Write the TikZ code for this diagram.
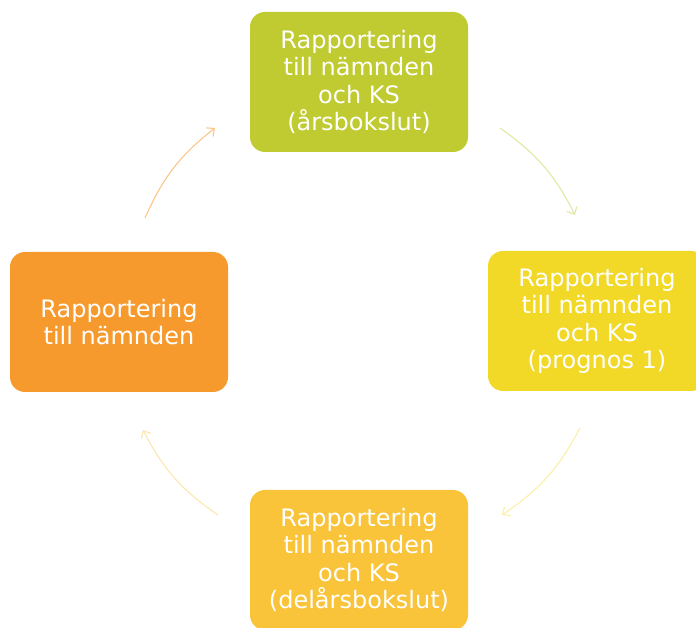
\documentclass[tikz,border=0pt]{standalone}
\usepackage{fontspec}
\setmainfont{DejaVu Sans}
\usetikzlibrary{arrows.meta}
\definecolor{arsgreen}{RGB}{191,203,48}
\definecolor{progyellow}{RGB}{242,217,40}
\definecolor{delgold}{RGB}{249,196,58}
\definecolor{namorange}{RGB}{247,154,46}
\begin{document}
\begin{tikzpicture}[x=1pt,y=1pt,
	stage/.style={rounded corners=15pt,minimum width=218pt,minimum height=140pt,align=center,text=white,font=\fontsize{24}{27.3}\selectfont},
	cycle/.style={line width=1.1pt,-{Straight Barb[length=6pt,width=11pt]},bend left=14}]
			\useasboundingbox (0,0) rectangle (696,628);
			\node [stage,fill=arsgreen] (ars) at (359,546) {Rapportering\\till nämnden\\och KS\\(årsbokslut)};
			\node [stage,fill=progyellow] (prog) at (597,307) {Rapportering\\till nämnden\\och KS\\(prognos 1)};
			\node [stage,fill=delgold] (del) at (359,68) {Rapportering\\till nämnden\\och KS\\(delårsbokslut)};
			\node [stage,fill=namorange] (nam) at (119,306) {Rapportering\\till nämnden};
			\coordinate (a1) at (500,500);
			\coordinate (a2) at (575,413);
			\coordinate (b1) at (580,200);
			\coordinate (b2) at (502,113);
			\coordinate (c1) at (218,113);
			\coordinate (c2) at (143,198);
			\coordinate (d1) at (145,410);
			\coordinate (d2) at (215,500);
			\draw[cycle,color=arsgreen!45] (a1) to (a2);
			\draw[cycle,color=progyellow!40] (b1) to (b2);
			\draw[cycle,color=delgold!40] (c1) to (c2);
			\draw[cycle,color=namorange!55] (d1) to (d2);
		\end{tikzpicture}
\end{document}
